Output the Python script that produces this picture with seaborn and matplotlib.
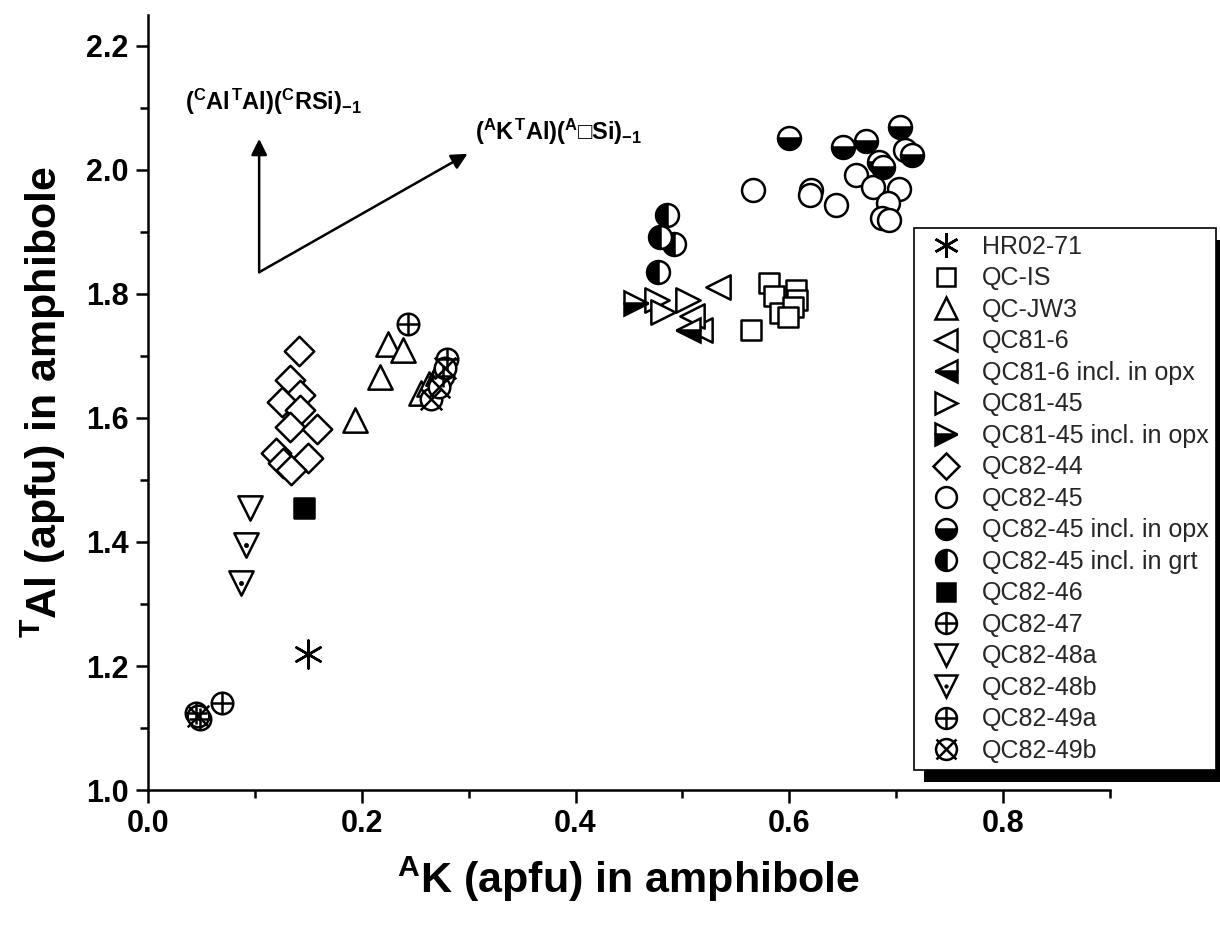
import matplotlib
matplotlib.use("Agg")
import matplotlib.pyplot as plt
import seaborn as sns
from matplotlib.lines import Line2D
from matplotlib.patches import Rectangle
from matplotlib.transforms import IdentityTransform
from matplotlib.legend_handler import HandlerTuple

# ---------------- data ----------------
hr02_71_x = [0.150]
hr02_71_y = [1.220]

qc_is_x = [0.5645, 0.581, 0.586, 0.591, 0.606, 0.607, 0.603, 0.599]
qc_is_y = [1.742, 1.818, 1.797, 1.769, 1.806, 1.790, 1.779, 1.763]

qc_jw3_x = [0.2246, 0.239, 0.217, 0.194, 0.255, 0.263, 0.271]
qc_jw3_y = [1.720, 1.709, 1.666, 1.597, 1.640, 1.655, 1.672]

qc81_6_x = [0.533, 0.516, 0.509]
qc81_6_y = [1.811, 1.742, 1.765]

qc81_6_opx_x = [0.505]
qc81_6_opx_y = [1.742]

qc81_45_x = [0.476, 0.482, 0.505]
qc81_45_y = [1.790, 1.771, 1.790]

qc81_45_opx_x = [0.457]
qc81_45_opx_y = [1.785]

qc82_44_x = [0.141, 0.133, 0.142, 0.1255, 0.142, 0.133, 0.158, 0.120, 0.150, 0.126, 0.134]
qc82_44_y = [1.708, 1.662, 1.637, 1.625, 1.613, 1.586, 1.582, 1.544, 1.536, 1.527, 1.516]

qc82_45_x = [0.566, 0.620, 0.619, 0.644, 0.662, 0.678, 0.703, 0.692, 0.687, 0.693, 0.708]
qc82_45_y = [1.968, 1.968, 1.960, 1.944, 1.992, 1.973, 1.970, 1.946, 1.922, 1.919, 2.032]

qc82_45_opx_x = [0.600, 0.650, 0.672, 0.684, 0.688, 0.704, 0.715]
qc82_45_opx_y = [2.051, 2.037, 2.046, 2.013, 2.005, 2.070, 2.024]

qc82_45_grt_x = [0.486, 0.479, 0.4925, 0.477]
qc82_45_grt_y = [1.927, 1.892, 1.881, 1.835]

qc82_46_x = [0.1455]
qc82_46_y = [1.455]

qc82_47_x = [0.2436, 0.069]
qc82_47_y = [1.752, 1.141]

qc82_48a_x = [0.095]
qc82_48a_y = [1.454]

qc82_48b_x = [0.092, 0.087]
qc82_48b_y = [1.395, 1.334]

qc82_49a_x = [0.276, 0.280, 0.045, 0.049]
qc82_49a_y = [1.667, 1.695, 1.125, 1.114]

qc82_49b_x = [0.265, 0.272, 0.278, 0.047]
qc82_49b_y = [1.630, 1.650, 1.680, 1.119]

x_ticks = [0.0, 0.2, 0.4, 0.6, 0.8]
x_tick_labels = ["0.0", "0.2", "0.4", "0.6", "0.8"]
y_ticks = [1.0, 1.2, 1.4, 1.6, 1.8, 2.0, 2.2]
y_tick_labels = ["1.0", "1.2", "1.4", "1.6", "1.8", "2.0", "2.2"]

legend_labels = ["HR02-71", "QC-IS", "QC-JW3", "QC81-6", "QC81-6 incl. in opx",
                 "QC81-45", "QC81-45 incl. in opx", "QC82-44", "QC82-45",
                 "QC82-45 incl. in opx", "QC82-45 incl. in grt", "QC82-46",
                 "QC82-47", "QC82-48a", "QC82-48b", "QC82-49a", "QC82-49b"]

# ---------------- style ----------------
sns.set_theme(style="ticks")
plt.rcParams["font.family"] = ["Liberation Sans", "DejaVu Sans"]
plt.rcParams["mathtext.fontset"] = "custom"
plt.rcParams["mathtext.rm"] = "Liberation Sans:bold"
plt.rcParams["mathtext.it"] = "Liberation Sans:bold"
plt.rcParams["mathtext.bf"] = "Liberation Sans:bold"
plt.rcParams["mathtext.fallback"] = "stixsans"

fig = plt.figure(figsize=(12.2, 9.3), dpi=100)
ax = fig.add_axes([0.1213, 0.1505, 0.7885, 0.8335])

LW = 1.8
K = "black"


def pts(x, y, marker, ms, fc="white", z=3, lw=LW):
    filled = marker not in ("+", "x", "|", "_") and not isinstance(marker, tuple)
    if filled:
        sns.scatterplot(x=x, y=y, marker=marker, s=ms ** 2, color=fc,
                        edgecolor=K, linewidth=lw, ax=ax, legend=False, zorder=z)
    else:
        sns.scatterplot(x=x, y=y, marker=marker, s=ms ** 2, color=K,
                        linewidth=lw, ax=ax, legend=False, zorder=z)


def half(x, y, marker, ms, fs, z=3):
    ax.plot(x, y, ls="none", marker=marker, ms=ms, fillstyle=fs,
            markerfacecolor=K, markerfacecoloralt="white", markeredgecolor=K,
            markeredgewidth=LW, zorder=z)


MS_O = 16.5
MS_T = 17.5
MS_D = 15
MS_S = 14

pts(qc82_44_x, qc82_44_y, "D", MS_D)
pts(qc_jw3_x, qc_jw3_y, "^", MS_T)
pts(qc82_48a_x, qc82_48a_y, "v", MS_T)
pts(qc82_48b_x, qc82_48b_y, "v", MS_T)
pts(qc82_48b_x, qc82_48b_y, "o", 3, fc=K, lw=0.5, z=4)
pts(qc82_46_x, qc82_46_y, "s", MS_S, fc=K)
pts(hr02_71_x, hr02_71_y, (6, 2, 0), 20)
pts(qc82_47_x, qc82_47_y, "o", 15.5)
pts(qc82_47_x, qc82_47_y, "+", 15.5, z=4)
pts(qc82_49a_x, qc82_49a_y, "o", 15.5)
pts(qc82_49a_x, qc82_49a_y, "+", 15.5, z=4)
pts(qc82_49b_x, qc82_49b_y, "o", 15.5)
pts(qc82_49b_x, qc82_49b_y, "x", 15.5, z=4)
pts(qc_is_x, qc_is_y, "s", MS_S)
pts(qc81_6_x, qc81_6_y, "<", MS_T)
half(qc81_6_opx_x, qc81_6_opx_y, "<", MS_T, "bottom")
pts(qc81_45_x, qc81_45_y, ">", MS_T)
half(qc81_45_opx_x, qc81_45_opx_y, ">", MS_T, "bottom")
pts(qc82_45_x, qc82_45_y, "o", MS_O)
half(qc82_45_opx_x, qc82_45_opx_y, "o", MS_O, "bottom")
half(qc82_45_grt_x, qc82_45_grt_y, "o", MS_O, "left")

# ---------------- axes ----------------
ax.set_xlim(0, 0.9)
ax.set_ylim(1.0, 2.25)
sns.despine(ax=ax)
for s in ("left", "bottom"):
    ax.spines[s].set_linewidth(1.8)
    ax.spines[s].set_color(K)
ax.set_xticks(x_ticks, labels=x_tick_labels, fontweight="bold")
ax.set_yticks(y_ticks, labels=y_tick_labels, fontweight="bold")
ax.set_xticks([0.1, 0.3, 0.5, 0.7, 0.9], minor=True)
ax.set_yticks([1.1, 1.3, 1.5, 1.7, 1.9, 2.1], minor=True)
ax.tick_params(which="major", direction="out", length=9, width=1.8,
               labelsize=22, pad=5, color=K, labelcolor=K)
ax.tick_params(which="minor", direction="out", length=6, width=1.8, color=K)
ax.set_facecolor("white")

ax.set_xlabel(r"$^{A}$K (apfu) in amphibole", fontsize=31, fontweight="bold",
              labelpad=11, color=K)
ax.set_ylabel(r"$^{T}$Al (apfu) in amphibole", fontsize=31, fontweight="bold",
              labelpad=13, color=K)

# ---------------- exchange vectors ----------------
arrow_kw = dict(arrowstyle="-|>", color=K, lw=1.8, mutation_scale=24,
                shrinkA=0, shrinkB=0)
ax.annotate("", xy=(0.104, 2.05), xytext=(0.104, 1.835), arrowprops=arrow_kw)
ax.annotate("", xy=(0.299, 2.026), xytext=(0.104, 1.835), arrowprops=arrow_kw)
ax.text(0.0346, 2.11, r"$(^{C}Al^{T}Al)(^{C}RSi)_{-1}$", fontsize=17,
        ha="left", va="center", color=K)
ax.text(0.306, 2.062, "$(^{A}K^{T}Al)(^{A}\u25a1Si)_{-1}$", fontsize=17,
        ha="left", va="center", color=K)

# ---------------- legend ----------------
def h(marker, ms, fc="white", fs="full", lw=LW):
    return Line2D([], [], ls="none", marker=marker, ms=ms, markerfacecolor=fc,
                  markerfacecoloralt="white", fillstyle=fs, markeredgecolor=K,
                  markeredgewidth=lw, color=K)

handles = [
    h((6, 2, 0), 18),
    h("s", 13),
    h("^", 16),
    h("<", 16),
    h("<", 16, fc=K, fs="bottom"),
    h(">", 16),
    h(">", 16, fc=K, fs="bottom"),
    h("D", 13.5),
    h("o", 15),
    h("o", 15, fc=K, fs="bottom"),
    h("o", 15, fc=K, fs="left"),
    h("s", 13, fc=K),
    (h("o", 15), h("+", 15)),
    h("v", 16),
    (h("v", 16), h("o", 2.5, fc=K, lw=0.5)),
    (h("o", 15), h("+", 15)),
    (h("o", 15), h("x", 15)),
]
leg = ax.legend(handles, legend_labels, loc="upper left",
                bbox_to_anchor=(0.749, 0.755), bbox_transform=fig.transFigure,
                borderaxespad=0, frameon=True, fancybox=False, framealpha=1,
                edgecolor=K, facecolor="white", fontsize=18, handlelength=2.0,
                handletextpad=0.45, labelspacing=0.3, borderpad=0.28,
                handler_map={tuple: HandlerTuple(ndivide=1)})
leg.get_frame().set_linewidth(1.2)
leg.set_zorder(10)

fig.canvas.draw()
bb = leg.get_window_extent()
shadow = Rectangle((bb.x0 + 10, bb.y0 - 12), bb.width, bb.height,
                   transform=IdentityTransform(), facecolor=K, edgecolor="none",
                   zorder=9, clip_on=False)
ax.add_artist(shadow)

fig.savefig("out.png", dpi=100, facecolor="white")
